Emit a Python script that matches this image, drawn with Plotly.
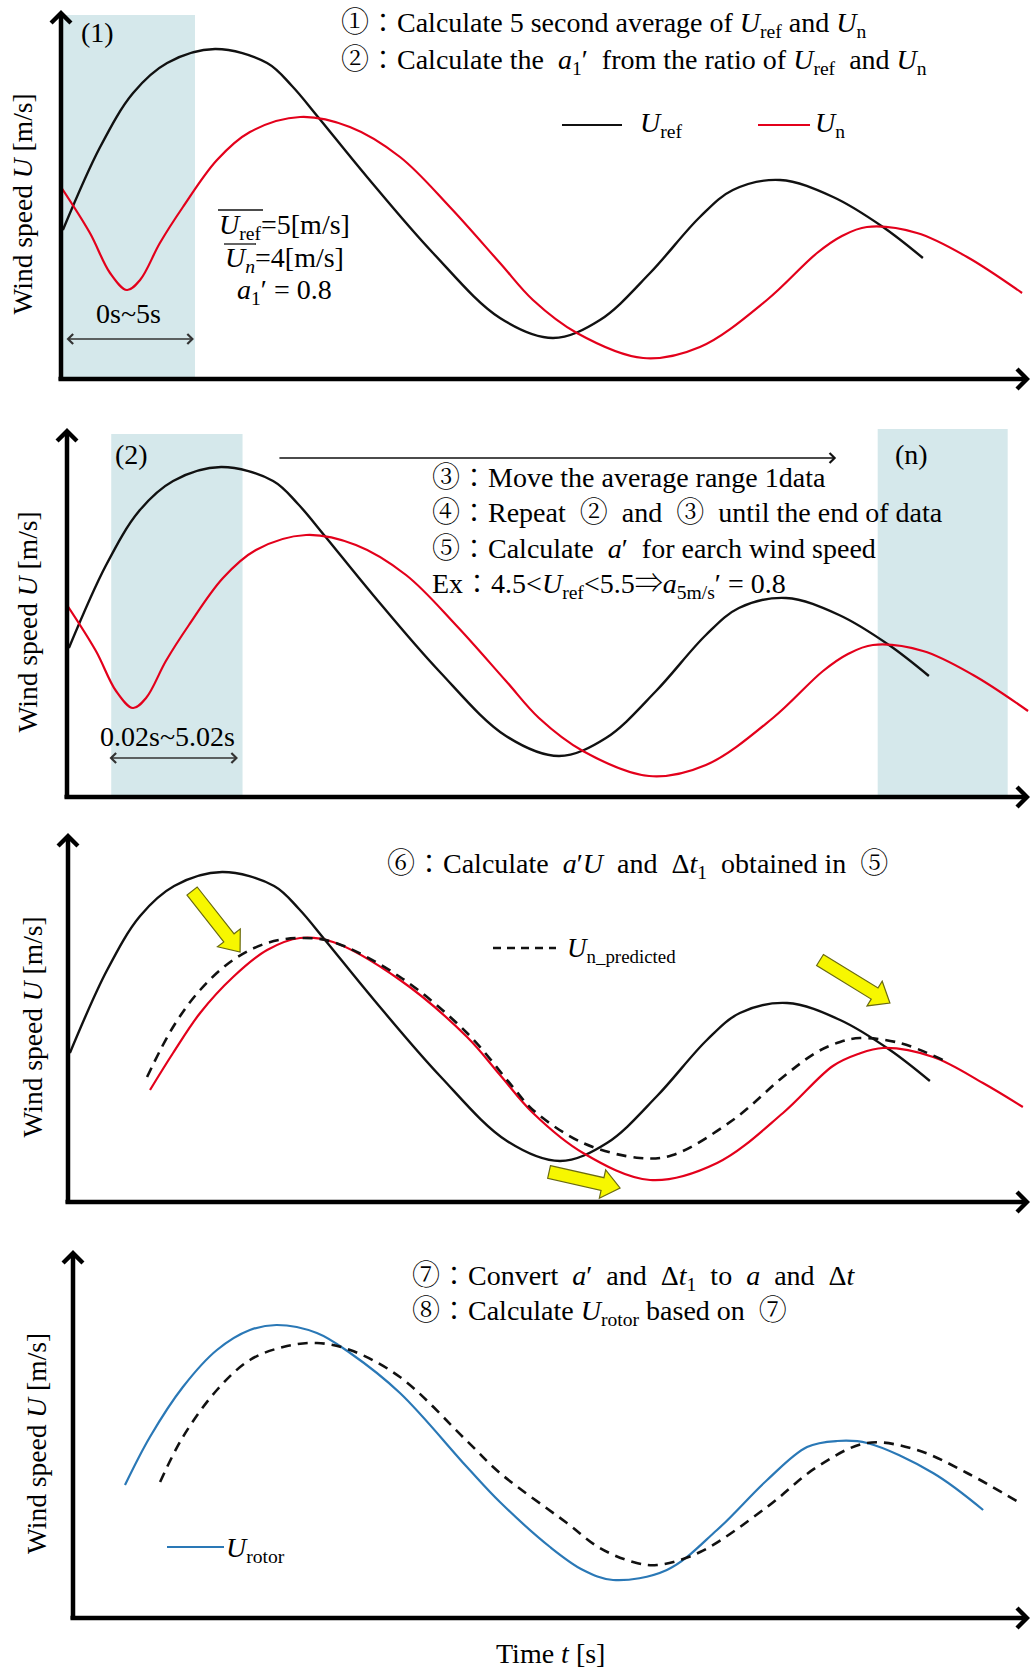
import math
import plotly.graph_objects as go

W, H = 1035, 1670
PX_S = 26.8   # pixels per second on every time axis
PX_U = 50.0   # pixels per m/s on every speed axis

# ---------------- wind-speed series (t in s, U in m/s) ----------------
# reference anemometer speed U_ref
ref_t = [0.07, 1.46, 2.69, 3.96, 5.75, 7.69, 8.62, 9.59, 11.42, 13.88, 16.38,
         18.36, 20.11, 21.98, 23.84, 25.07, 26.83, 28.81, 30.67, 32.16]
ref_u = [2.98, 4.64, 5.72, 6.32, 6.60, 6.32, 5.86, 5.24, 4.04, 2.52, 1.22,
         0.82, 1.18, 2.12, 3.24, 3.78, 3.98, 3.64, 3.04, 2.42]

# nacelle speed U_n
n_t = [0.0, 1.08, 1.83, 2.46, 2.95, 3.69, 4.55, 5.82, 7.05, 8.92, 10.78, 12.65,
       14.51, 16.38, 17.61, 19.25, 21.72, 23.84, 26.34, 28.21, 29.14, 30.07,
       31.94, 33.81, 35.86]
n_u = [3.84, 2.92, 2.12, 1.78, 1.98, 2.72, 3.44, 4.38, 4.94, 5.24, 5.04, 4.44,
       3.44, 2.32, 1.58, 0.92, 0.42, 0.64, 1.58, 2.52, 2.86, 3.04,
       2.92, 2.44, 1.72]

# U_n shown from the first averaging step onwards
n3_t = [3.06, 3.92, 4.93, 6.16, 7.43, 8.66, 9.89, 12.39, 14.89, 16.12, 17.35,
        19.22, 21.72, 24.22, 26.68, 28.54, 29.48, 30.41, 32.28, 34.14, 35.63]
n3_u = [2.24, 2.98, 3.78, 4.50, 5.04, 5.28, 5.20, 4.44, 3.30, 2.54, 1.78,
        0.98, 0.44, 0.78, 1.78, 2.72, 2.96, 3.08, 2.90, 2.38, 1.90]

# predicted nacelle speed U_n_predicted
pred_t = [2.95, 3.92, 4.93, 6.16, 7.43, 8.66, 9.89, 12.39, 14.89, 16.60, 17.35,
          19.22, 21.34, 22.57, 24.81, 26.68, 27.95, 28.81, 29.55, 31.04, 32.65]
pred_u = [2.50, 3.50, 4.24, 4.84, 5.18, 5.28, 5.20, 4.50, 3.38, 2.30, 1.84,
          1.18, 0.88, 0.94, 1.64, 2.50, 3.00, 3.20, 3.28, 3.18, 2.84]

# rotor-equivalent speed U_rotor
rot_t = [1.94, 2.87, 4.10, 5.37, 6.60, 7.61, 9.10, 10.34, 12.20, 14.70, 15.93,
         17.80, 19.03, 20.15, 22.16, 24.03, 25.90, 27.39, 28.51, 29.63, 32.09, 33.96]
rot_u = [2.66, 3.62, 4.62, 5.36, 5.76, 5.86, 5.70, 5.30, 4.50, 3.02, 2.32,
         1.42, 0.96, 0.76, 0.96, 1.76, 2.76, 3.42, 3.54, 3.50, 2.90, 2.16]

# predicted speed in the last step
pr4_t = [3.25, 4.10, 5.37, 6.60, 7.84, 9.10, 10.34, 12.20, 14.70, 15.93, 18.43,
         19.66, 20.90, 21.79, 23.40, 25.90, 27.76, 29.63, 31.49, 33.36, 35.34]
pr4_u = [2.72, 3.62, 4.56, 5.16, 5.42, 5.50, 5.36, 4.82, 3.54, 2.90, 1.90,
         1.40, 1.12, 1.06, 1.32, 2.22, 3.02, 3.50, 3.36, 2.90, 2.30]

# 5-second averaging windows: (panel, start, end, top)
win_panel = [1, 2, 2]
win_start = [0.0, 1.65, 30.25]
win_end = [5.0, 6.55, 35.10]
win_top = [7.28, 7.26, 7.36]

# yellow shift arrows in panel 3 (tail -> tip)
sh_tail_t = [4.63, 28.06, 17.95]
sh_tail_u = [6.22, 4.84, 0.60]
sh_tip_t = [6.42, 30.67, 20.60]
sh_tip_u = [5.00, 3.98, 0.28]

# ---------------- layout geometry ----------------
# (origin x, origin y, top of the speed axis) in page pixels
PANELS = [(61, 379, 10), (67, 797, 428), (68, 1202, 833), (73, 1618, 1250)]
X_TIP = 1030

SERIF = "Liberation Serif, Noto Serif CJK JP, Noto Sans CJK JP, serif"
FS = 28
BLACK = "#111111"
RED = "#e3001b"
BLUE = "#2a78b6"
SHADE = "#d5e8eb"

fig = go.Figure()


def ax_ids(i):
    s = "" if i == 1 else str(i)
    return "x" + s, "y" + s


def line(i, t, u, color, width, dash=None):
    xa, ya = ax_ids(i)
    fig.add_trace(go.Scatter(
        x=t, y=u, xaxis=xa, yaxis=ya, mode="lines",
        line=dict(color=color, width=width, shape="spline", smoothing=1.0,
                  dash=dash),
        showlegend=False, hoverinfo="skip"))


# panel 1 and 2: U_ref and U_n
for p in (1, 2):
    line(p, ref_t, ref_u, BLACK, 2.4)
    line(p, n_t, n_u, RED, 2.2)
# panel 3: U_ref, U_n and the prediction
line(3, ref_t, ref_u, BLACK, 2.4)
line(3, n3_t, n3_u, RED, 2.2)
line(3, pred_t, pred_u, BLACK, 2.6, dash="10px,7px")
# panel 4: U_rotor and the prediction
line(4, rot_t, rot_u, BLUE, 2.2)
line(4, pr4_t, pr4_u, BLACK, 2.6, dash="10px,7px")

layout = dict(width=W, height=H, margin=dict(l=0, r=0, t=0, b=0),
              paper_bgcolor="white", plot_bgcolor="white", showlegend=False)
annotations = []
shapes = []

for i, (ox, oy, top) in enumerate(PANELS, start=1):
    xa, ya = ax_ids(i)
    xkey = "xaxis" + xa[1:]
    ykey = "yaxis" + ya[1:]
    layout[xkey] = dict(domain=[ox / W, 1], range=[0, (W - ox) / PX_S],
                        visible=False, anchor=ya, fixedrange=True)
    layout[ykey] = dict(domain=[1 - oy / H, 1 - top / H],
                        range=[0, (oy - top) / PX_U], visible=False,
                        anchor=xa, fixedrange=True)
    # time axis arrow
    annotations.append(dict(
        x=(X_TIP - ox) / PX_S, y=0, ax=-0.15, ay=0, xref=xa, yref=ya,
        axref=xa, ayref=ya, text="", showarrow=True, arrowhead=4,
        arrowwidth=4.5, arrowsize=0.85, arrowcolor="black"))
    # speed axis arrow
    annotations.append(dict(
        x=0, y=(oy - top) / PX_U, ax=0, ay=-0.05, xref=xa, yref=ya,
        axref=xa, ayref=ya, text="", showarrow=True, arrowhead=4,
        arrowwidth=4.5, arrowsize=0.85, arrowcolor="black"))

# shaded averaging windows
for p, s, e, tp in zip(win_panel, win_start, win_end, win_top):
    xa, ya = ax_ids(p)
    shapes.append(dict(type="rect", xref=xa, yref=ya, x0=s, x1=e, y0=0, y1=tp,
                       fillcolor=SHADE, line=dict(width=0), layer="below"))

# yellow block arrows (pixel geometry anchored at the tail)
for tt, tu, ht, hu in zip(sh_tail_t, sh_tail_u, sh_tip_t, sh_tip_u):
    dx = (ht - tt) * PX_S
    dy = (hu - tu) * PX_U
    L = math.hypot(dx, dy)
    ux, uy = dx / L, dy / L
    nx, ny = -uy, ux
    hw, HW, hl = 6.5, 14.5, 18.0
    bx, by = ux * (L - hl), uy * (L - hl)
    pts = [(nx * hw, ny * hw), (bx + nx * hw, by + ny * hw),
           (bx + nx * HW, by + ny * HW), (dx, dy),
           (bx - nx * HW, by - ny * HW), (bx - nx * hw, by - ny * hw),
           (-nx * hw, -ny * hw)]
    path = "M" + " L".join(f"{px:.1f},{py:.1f}" for px, py in pts) + " Z"
    shapes.append(dict(type="path", xref="x3", yref="y3", xsizemode="pixel",
                       ysizemode="pixel", xanchor=tt, yanchor=tu, path=path,
                       fillcolor="#f7f700", line=dict(color="#6a6a10", width=1.2),
                       layer="above"))


def txt(x, y, text, size=FS, xanchor="left", angle=0):
    annotations.append(dict(
        x=x / W, y=1 - y / H, xref="paper", yref="paper", text=text,
        showarrow=False, xanchor=xanchor, yanchor="middle", textangle=angle,
        font=dict(family=SERIF, size=size, color="black")))


def key_line(x0, x1, y, color, width=2.2, dash=None):
    shapes.append(dict(type="line", xref="paper", yref="paper",
                       x0=x0 / W, x1=x1 / W, y0=1 - y / H, y1=1 - y / H,
                       line=dict(color=color, width=width, dash=dash)))


def span_arrow(i, t0, t1, u, both=True, width=1.3, color="#333333"):
    xa, ya = ax_ids(i)
    annotations.append(dict(
        x=t1, y=u, ax=t0, ay=u, xref=xa, yref=ya, axref=xa, ayref=ya,
        text="", showarrow=True, arrowhead=4, startarrowhead=4,
        arrowside="end+start" if both else "end", arrowwidth=width,
        arrowsize=1.5, startarrowsize=1.5, arrowcolor=color))


U = "<i>U</i>"

# y-axis titles
for (ox, oy, top), xc in zip(PANELS, [22, 27, 32, 36]):
    txt(xc, (oy + top) / 2 + 10, f"Wind speed {U} [m/s]", size=27.5,
        xanchor="center", angle=-90)

# panel 1
txt(79, 33, "(1)")
txt(339, 24, f"①：Calculate 5 second average of {U}<sub>ref</sub> and {U}<sub>n</sub>")
txt(339, 62, f"②：Calculate the  <i>a</i><sub>1</sub>′  from the ratio of "
             f"{U}<sub>ref</sub>  and {U}<sub>n</sub>")
key_line(562, 622, 125, BLACK, 2.2)
txt(638, 125, f"{U}<sub>ref</sub>")
key_line(758, 810, 125, RED, 2.2)
txt(813, 125, f"{U}<sub>n</sub>")
txt(284, 226, f"{U}<sub>ref</sub>=5[m/s]", xanchor="center")
txt(284, 259, f"{U}<sub><i>n</i></sub>=4[m/s]", xanchor="center")
txt(284, 292, "<i>a</i><sub>1</sub>′ = 0.8", xanchor="center")
key_line(218, 263, 210, BLACK, 1.3)     # mean bar over U_ref
key_line(224, 256, 244, BLACK, 1.3)     # mean bar over U_n
txt(128, 314, "0s~5s", xanchor="center")
span_arrow(1, 0.15, 4.96, 0.80)

# panel 2
txt(113, 454, "(2)")
txt(893, 455, "(n)")
span_arrow(2, 7.87, 28.7, 6.78, both=False, width=1.3, color="#111111")
txt(430, 477, "③：Move the average range 1data")
txt(430, 512, "④：Repeat  ②  and  ③  until the end of data")
txt(430, 548, "⑤：Calculate  <i>a</i>′  for earch wind speed")
txt(430, 586, f"Ex：4.5&lt;{U}<sub>ref</sub>&lt;5.5⇒<i>a</i><sub>5m/s</sub>′ = 0.8")
txt(167, 736, "0.02s~5.02s", xanchor="center")
span_arrow(2, 1.53, 6.38, 0.78)

# panel 3
txt(385, 865, "⑥：Calculate  <i>a</i>′<i>U</i>  and  Δ<i>t</i><sub>1</sub>  obtained in  ⑤")
key_line(493, 556, 948, BLACK, 2.4, dash="8px,6px")
txt(565, 950, f"{U}<sub>n_predicted</sub>", size=27)

# panel 4
txt(410, 1277, "⑦：Convert  <i>a</i>′  and  Δ<i>t</i><sub>1</sub>  to  <i>a</i>  and  Δ<i>t</i>")
txt(410, 1312, f"⑧：Calculate {U}<sub>rotor</sub> based on  ⑦")
key_line(167, 224, 1547, BLUE, 2.2)
txt(224, 1549, f"{U}<sub>rotor</sub>")
txt(550, 1653, "Time <i>t</i> [s]", xanchor="center")

layout["annotations"] = annotations
layout["shapes"] = shapes
fig.update_layout(**layout)
fig.write_html("out.html")
